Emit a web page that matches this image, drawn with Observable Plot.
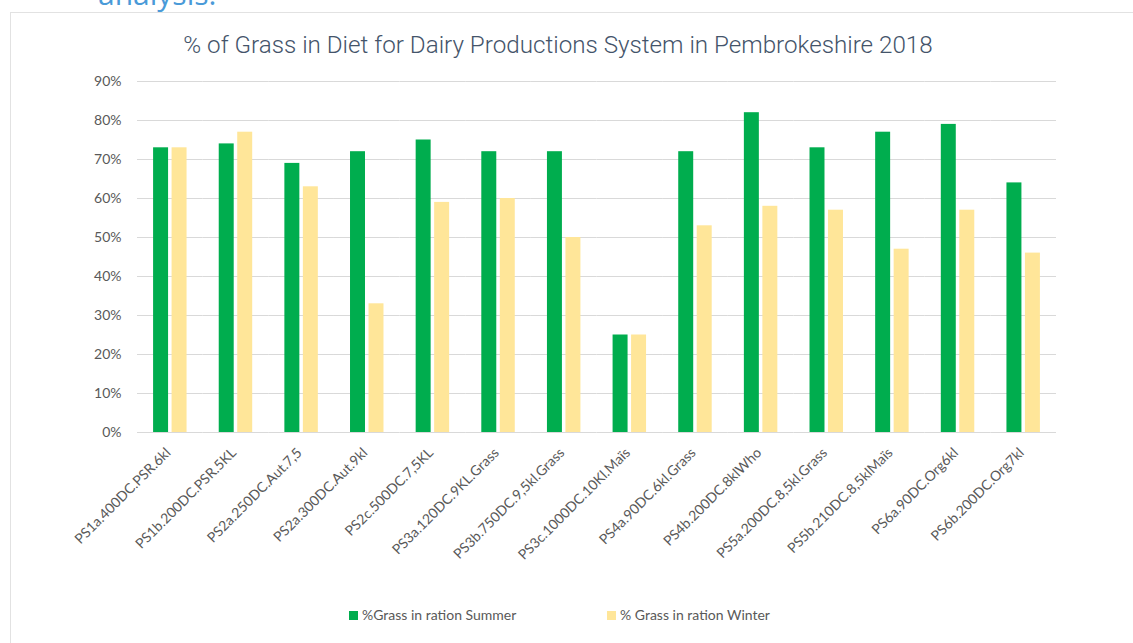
<!DOCTYPE html>
<html><head><meta charset="utf-8">
<script src="https://cdn.jsdelivr.net/npm/d3@7"></script>
<script src="https://cdn.jsdelivr.net/npm/@observablehq/plot@0.6"></script>
<style>
body{margin:0;background:#fff;width:1133px;height:643px;overflow:hidden;position:relative;font-family:Lato,sans-serif}
#above{position:absolute;left:98px;top:-27px;font:30px "Open Sans";color:#4a9ad8;white-space:nowrap}
#frame{position:absolute;left:10px;top:12px;right:-5px;bottom:-5px;border-left:1px solid #e2e2e2;border-top:1px solid #e2e2e2}
#title{position:absolute;left:0;width:1116px;top:31px;text-align:center;font:300 24.2px Roboto;color:#44546a;white-space:nowrap}
#chart{position:absolute;left:0;top:65px}
.lg{position:absolute;top:606px;font:14px Lato;color:#595959;white-space:nowrap;line-height:18px}
.sw{position:absolute;width:9px;height:9px}
</style></head>
<body>
<div id="above">analysis.</div>
<div id="frame"></div>
<div id="title">% of Grass in Diet for Dairy Productions System in Pembrokeshire 2018</div>
<div id="chart"></div>
<div id="legend"></div>
<script>
const categories = ["PS1a.400DC.PSR.6kl","PS1b.200DC.PSR.5KL","PS2a.250DC.Aut.7,5","PS2a.300DC.Aut.9kl","PS2c.500DC.7,5KL","PS3a.120DC.9KL.Grass","PS3b.750DC.9,5kl.Grass","PS3c.1000DC.10Kl.Maïs","PS4a.90DC.6kl.Grass","PS4b.200DC.8klWho","PS5a.200DC.8,5kl.Grass","PS5b.210DC.8,5klMaïs","PS6a.90DC.Org6kl","PS6b.200DC.Org7kl"];
const seriesNames = ["%Grass in ration Summer","% Grass in ration Winter"];
const summer = [73,74,69,72,75,72,72,25,72,82,73,77,79,64];
const winter = [73,77,63,33,59,60,50,25,53,58,57,47,57,46];
const yTicks = [0,10,20,30,40,50,60,70,80,90];
const colors = ["#00ad4e","#ffe699"];

const data = categories.flatMap((c,i)=>[
  {cat:c, series:seriesNames[0], v:summer[i]},
  {cat:c, series:seriesNames[1], v:winter[i]}
]);

const chart = Plot.plot({
  width:1133, height:500,
  marginLeft:137, marginRight:77, marginTop:16, marginBottom:133,
  style:{fontFamily:"Lato", fontSize:"14px", color:"#595959", background:"transparent"},
  fx:{domain:categories, padding:0, round:false, label:null},
  x:{domain:seriesNames, paddingInner:0.19, paddingOuter:0.87, round:false, axis:null},
  y:{domain:[0,90], label:null},
  color:{domain:seriesNames, range:colors},
  marks:[
    Plot.gridY(yTicks, {stroke:"#d9d9d9", strokeOpacity:1}),
    Plot.axisY(yTicks, {tickSize:0, tickPadding:16, tickFormat:d=>d+"%", label:null, fill:"#595959"}),
    Plot.axisFx({anchor:"bottom", tickRotate:-45, tickSize:0, tickPadding:18, dx:-2, label:null, fill:"#595959"}),
    Plot.barY(data, {fx:"cat", x:"series", y:"v", fill:"series"})
  ]
});
document.getElementById("chart").appendChild(chart);

const legend = document.getElementById("legend");
const lgPos = [[349,362],[607,620]];
seriesNames.forEach((s,i)=>{
  const sw = document.createElement("div");
  sw.className="sw"; sw.style.background=colors[i];
  sw.style.left=lgPos[i][0]+"px"; sw.style.top="611px";
  legend.appendChild(sw);
  const t = document.createElement("div");
  t.className="lg"; t.textContent=s; t.style.left=lgPos[i][1]+"px";
  legend.appendChild(t);
});
</script>
</body></html>
